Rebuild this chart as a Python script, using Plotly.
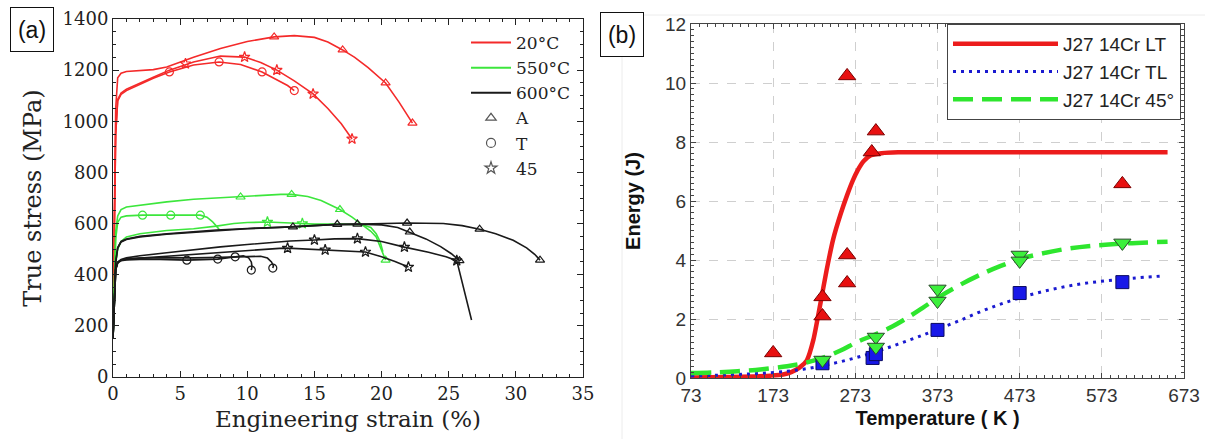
import plotly.graph_objects as go

# ---------------- Panel (a) data: true stress (MPa) vs engineering strain (%) ----------------
# 20 °C (red)
red_A_strain = [0, 0.1, 0.2, 0.35, 0.6, 1, 2, 3, 4, 5, 6, 8, 10, 12, 13.5, 15, 16, 17.1, 18, 19, 20.3, 21.3, 22.3]
red_A_stress = [200, 700, 1050, 1170, 1188, 1195, 1198, 1202, 1212, 1232, 1250, 1285, 1312, 1330, 1335, 1328, 1310, 1279, 1250, 1210, 1150, 1075, 993]
red_A_mk_strain = [12.0, 17.1, 20.3, 22.3]
red_A_mk_stress = [1330, 1279, 1150, 993]

red_T_strain = [0, 0.1, 0.2, 0.35, 0.6, 1, 2, 3, 4.2, 6, 7.9, 9.5, 11.1, 12.3, 13.0, 13.5]
red_T_stress = [200, 650, 950, 1080, 1105, 1120, 1145, 1168, 1193, 1220, 1232, 1222, 1193, 1160, 1140, 1120]
red_T_mk_strain = [4.2, 7.9, 11.1, 13.5]
red_T_mk_stress = [1193, 1232, 1193, 1120]

red_45_strain = [0, 0.1, 0.2, 0.35, 0.6, 1, 2, 3, 4.2, 6, 8, 9.8, 11, 12.2, 13.5, 14.9, 16, 17, 17.8]
red_45_stress = [200, 650, 950, 1085, 1110, 1125, 1150, 1172, 1200, 1232, 1255, 1251, 1230, 1200, 1158, 1107, 1050, 990, 931]
red_45_mk_strain = [5.4, 9.8, 12.2, 14.9, 17.8]
red_45_mk_stress = [1225, 1251, 1200, 1107, 931]

# 550 °C (green)
grn_A_strain = [0, 0.1, 0.2, 0.35, 0.6, 1, 2, 4, 6, 8, 9.5, 11, 12.5, 13.3, 14.5, 15.5, 16.9, 17.8, 18.6, 19.2, 19.6, 20.0, 20.3]
grn_A_stress = [160, 420, 570, 630, 655, 665, 672, 685, 695, 701, 704, 710, 714, 714, 706, 690, 655, 625, 595, 570, 548, 500, 457]
grn_A_mk_strain = [9.5, 13.3, 16.9, 20.3]
grn_A_mk_stress = [704, 714, 655, 457]

grn_T_strain = [0, 0.1, 0.2, 0.35, 0.6, 1, 2.2, 4.3, 6.5, 7.0, 7.4, 7.7, 7.9]
grn_T_stress = [160, 400, 540, 605, 625, 630, 633, 633, 633, 625, 608, 590, 578]
grn_T_mk_strain = [2.2, 4.3, 6.5]
grn_T_mk_stress = [633, 633, 633]

grn_45_strain = [0, 0.1, 0.2, 0.35, 0.6, 1, 2, 4, 6, 7.7, 9, 10, 11.5, 13.2, 15, 17, 18.5, 19.2, 19.6, 19.9, 20.1]
grn_45_stress = [150, 350, 440, 500, 530, 548, 560, 573, 580, 590, 600, 604, 606, 602, 598, 598, 596, 585, 560, 528, 490]
grn_45_mk_strain = [11.5, 14.1]
grn_45_mk_stress = [606, 600]

# 600 °C (black)
blk_A1_strain = [0, 0.1, 0.2, 0.35, 0.6, 1, 2, 4, 6, 7.7, 10, 13.4, 16, 19, 21.9, 24.6, 26, 27.3, 28.5, 29.8, 30.8, 31.4, 31.8]
blk_A1_stress = [150, 330, 450, 505, 530, 540, 550, 560, 568, 575, 581, 587, 595, 600, 602, 600, 592, 578, 560, 535, 505, 480, 457]
blk_A1_mk_strain = [13.4, 21.9, 27.3, 31.8]
blk_A1_mk_stress = [587, 602, 578, 457]

blk_A2_strain = [0, 0.1, 0.2, 0.35, 0.6, 1, 2, 4, 6, 8, 10, 12.4, 14, 16.7, 18.2, 20, 21.2, 22.1, 23.3, 24.4, 25.2, 25.8]
blk_A2_stress = [150, 330, 450, 505, 528, 538, 548, 558, 566, 574, 580, 585, 590, 597, 598, 595, 585, 567, 540, 510, 482, 455]
blk_A2_mk_strain = [16.7, 18.2, 22.1, 25.8]
blk_A2_mk_stress = [597, 598, 567, 455]

blk_45a_strain = [0, 0.1, 0.2, 0.35, 0.6, 1, 2, 4, 6, 8, 10, 13.2, 15.0, 16.5, 18.2, 20, 21.7, 23.5, 24.8, 25.6, 26.7]
blk_45a_stress = [150, 300, 420, 450, 460, 466, 474, 486, 498, 509, 518, 532, 536, 540, 541, 530, 508, 488, 470, 455, 223]
blk_45a_mk_strain = [15.0, 18.2, 21.7, 25.6]
blk_45a_mk_stress = [536, 541, 508, 455]

blk_45b_strain = [0, 0.1, 0.2, 0.35, 0.6, 1, 2, 4, 6, 8, 10, 12.4, 13.0, 15.8, 17.5, 18.8, 20.0, 21.0, 22.0]
blk_45b_stress = [150, 300, 420, 448, 456, 460, 465, 472, 480, 488, 496, 503, 504, 497, 493, 489, 470, 452, 430]
blk_45b_mk_strain = [13.0, 15.8, 18.8, 22.0]
blk_45b_mk_stress = [504, 497, 489, 430]

blk_T1_strain = [0, 0.1, 0.2, 0.35, 0.6, 1, 2, 3.5, 5.5, 7.8, 9.1, 9.7, 10.1, 10.3, 10.35, 10.3]
blk_T1_stress = [150, 300, 420, 445, 455, 458, 460, 460, 457, 461, 469, 474, 466, 450, 432, 418]
blk_T1_mk_strain = [5.5, 7.8, 10.3]
blk_T1_mk_stress = [457, 461, 418]

blk_T2_strain = [0, 0.1, 0.2, 0.35, 0.6, 1, 2, 4, 6, 8, 9.1, 10, 11.0, 11.5, 11.8, 11.95, 11.9]
blk_T2_stress = [150, 300, 420, 448, 458, 462, 465, 467, 466, 468, 470, 472, 472, 465, 450, 435, 426]
blk_T2_mk_strain = [9.1, 11.9]
blk_T2_mk_stress = [470, 426]

a_xticks = [0, 5, 10, 15, 20, 25, 30, 35]
a_yticks = [0, 200, 400, 600, 800, 1000, 1200, 1400]

# ---------------- Panel (b) data: Charpy energy (J) vs temperature (K) ----------------
lt_fit_T = [73, 120, 150, 170, 185, 195, 205, 214, 222, 230, 238, 246, 255, 263, 270, 276, 283, 292, 305, 325, 360, 450, 550, 653]
lt_fit_E = [0.02, 0.03, 0.05, 0.08, 0.12, 0.2, 0.35, 0.6, 1.3, 2.45, 3.65, 4.7, 5.55, 6.2, 6.7, 7.05, 7.35, 7.55, 7.62, 7.65, 7.65, 7.65, 7.65, 7.65]
tl_fit_T = [73, 100, 130, 160, 190, 210, 230, 250, 270, 290, 310, 330, 350, 373, 400, 430, 460, 490, 520, 550, 580, 610, 647]
tl_fit_E = [0.07, 0.09, 0.12, 0.16, 0.23, 0.3, 0.4, 0.52, 0.66, 0.82, 1.0, 1.2, 1.4, 1.65, 1.95, 2.3, 2.6, 2.85, 3.05, 3.2, 3.3, 3.38, 3.46]
d45_fit_T = [73, 100, 130, 160, 190, 210, 233, 255, 275, 295, 315, 335, 355, 375, 400, 425, 450, 475, 500, 530, 560, 600, 653]
d45_fit_E = [0.17, 0.19, 0.23, 0.3, 0.4, 0.5, 0.68, 0.93, 1.22, 1.45, 1.7, 2.02, 2.38, 2.75, 3.15, 3.5, 3.8, 4.05, 4.22, 4.38, 4.48, 4.56, 4.62]

lt_pts_T = [173, 233, 233, 263, 263, 263, 293, 298, 598]
lt_pts_E = [0.85, 2.75, 2.1, 10.24, 4.17, 3.22, 7.66, 8.37, 6.58]
tl_pts_T = [233, 294, 298, 373, 473, 598]
tl_pts_E = [0.5, 0.68, 0.81, 1.63, 2.88, 3.25]
d45_pts_T = [233, 298, 298, 373, 373, 473, 473, 598]
d45_pts_E = [0.61, 1.39, 1.05, 3.02, 2.61, 4.17, 3.97, 4.58]

b_xticks = [73, 173, 273, 373, 473, 573, 673]
b_yticks = [0, 2, 4, 6, 8, 10, 12]

# ---------------- styles ----------------
RED_A, GRN_A, BLK_A = "#f42a2a", "#3ce63c", "#1a1a1a"
SERIF = "DejaVu Serif"
SANS = "Liberation Sans"

fig = go.Figure()

def add_curve(xs, ys, mx, my, color, symbol):
    fig.add_trace(go.Scatter(x=xs, y=ys, mode="lines", line=dict(color=color, width=1.6),
                             showlegend=False, xaxis="x", yaxis="y", hoverinfo="skip"))
    fig.add_trace(go.Scatter(x=mx, y=my, mode="markers",
                             marker=dict(symbol=symbol, size=8, color=color, line=dict(color=color, width=1.2)),
                             showlegend=False, xaxis="x", yaxis="y", hoverinfo="skip"))

add_curve(red_A_strain, red_A_stress, red_A_mk_strain, red_A_mk_stress, RED_A, "triangle-up-open")
add_curve(red_T_strain, red_T_stress, red_T_mk_strain, red_T_mk_stress, RED_A, "circle-open")
add_curve(red_45_strain, red_45_stress, red_45_mk_strain, red_45_mk_stress, RED_A, "star-open")
add_curve(grn_A_strain, grn_A_stress, grn_A_mk_strain, grn_A_mk_stress, GRN_A, "triangle-up-open")
add_curve(grn_T_strain, grn_T_stress, grn_T_mk_strain, grn_T_mk_stress, GRN_A, "circle-open")
add_curve(grn_45_strain, grn_45_stress, grn_45_mk_strain, grn_45_mk_stress, GRN_A, "star-open")
add_curve(blk_A1_strain, blk_A1_stress, blk_A1_mk_strain, blk_A1_mk_stress, BLK_A, "triangle-up-open")
add_curve(blk_A2_strain, blk_A2_stress, blk_A2_mk_strain, blk_A2_mk_stress, BLK_A, "triangle-up-open")
add_curve(blk_45a_strain, blk_45a_stress, blk_45a_mk_strain, blk_45a_mk_stress, BLK_A, "star-open")
add_curve(blk_45b_strain, blk_45b_stress, blk_45b_mk_strain, blk_45b_mk_stress, BLK_A, "star-open")
add_curve(blk_T1_strain, blk_T1_stress, blk_T1_mk_strain, blk_T1_mk_stress, BLK_A, "circle-open")
add_curve(blk_T2_strain, blk_T2_stress, blk_T2_mk_strain, blk_T2_mk_stress, BLK_A, "circle-open")

# legend entries for panel (a)
for nm, col in [("20°C", RED_A), ("550°C", GRN_A), ("600°C", BLK_A)]:
    fig.add_trace(go.Scatter(x=[None], y=[None], mode="lines", name=nm, line=dict(color=col, width=2),
                             legend="legend", xaxis="x", yaxis="y"))
for nm, sym in [("A", "triangle-up-open"), ("T", "circle-open"), ("45", "star-open")]:
    fig.add_trace(go.Scatter(x=[None], y=[None], mode="markers", name=nm,
                             marker=dict(symbol=sym, size=9, color="#555", line=dict(color="#555", width=1.2)),
                             legend="legend", xaxis="x", yaxis="y"))

# panel (b)
RED_B, BLUE_B, GRN_B = "#ec1c1c", "#1a1ad0", "#2ee62e"
fig.add_trace(go.Scatter(x=lt_fit_T, y=lt_fit_E, mode="lines", name="J27 14Cr LT",
                         line=dict(color=RED_B, width=4.5, shape="spline", smoothing=0.6), legend="legend2", xaxis="x2", yaxis="y2"))
fig.add_trace(go.Scatter(x=tl_fit_T, y=tl_fit_E, mode="lines", name="J27 14Cr TL",
                         line=dict(color=BLUE_B, width=3, dash="3px,5px", shape="spline"), legend="legend2", xaxis="x2", yaxis="y2"))
fig.add_trace(go.Scatter(x=d45_fit_T, y=d45_fit_E, mode="lines", name="J27 14Cr 45°",
                         line=dict(color=GRN_B, width=4.5, dash="20px,9px", shape="spline"), legend="legend2", xaxis="x2", yaxis="y2"))
fig.add_trace(go.Scatter(x=lt_pts_T, y=lt_pts_E, mode="markers", showlegend=False,
                         marker=dict(symbol="triangle-up", size=15, color="#e81010", line=dict(color="#7a0000", width=1)),
                         xaxis="x2", yaxis="y2"))
fig.add_trace(go.Scatter(x=tl_pts_T, y=tl_pts_E, mode="markers", showlegend=False,
                         marker=dict(symbol="square", size=13, color="#1818e8", line=dict(color="#0a0a60", width=1)),
                         xaxis="x2", yaxis="y2"))
fig.add_trace(go.Scatter(x=d45_pts_T, y=d45_pts_E, mode="markers", showlegend=False,
                         marker=dict(symbol="triangle-down", size=15, color="#3cf03c", line=dict(color="#2a4a2a", width=1)),
                         xaxis="x2", yaxis="y2"))

W, H = 1214, 439
axis_a = dict(showline=True, linecolor="#222", linewidth=1, mirror="allticks", ticks="inside", ticklen=6,
              tickcolor="#222", showgrid=False, zeroline=False, automargin=False,
              tickfont=dict(family=SERIF, size=18, color="#222"))
axis_b = dict(showline=True, linecolor="#444", linewidth=1, mirror="allticks", ticks="inside", ticklen=5,
              tickcolor="#444", showgrid=True, gridcolor="#cfcfcf", griddash="dash", gridwidth=1, zeroline=False,
              automargin=False, tickfont=dict(family=SANS, size=19, color="#333"))

fig.update_layout(
    width=W, height=H, margin=dict(l=0, r=0, t=0, b=0, autoexpand=False),
    paper_bgcolor="white", plot_bgcolor="white",
    xaxis=dict(axis_a, domain=[113 / W, 583 / W], range=[0, 35], tickvals=a_xticks, anchor="y",
               minor=dict(dtick=1, ticks="inside", ticklen=3, tickcolor="#222"),
               title=dict(text="Engineering strain (%)", font=dict(family=SERIF, size=23, color="#222"), standoff=8)),
    yaxis=dict(axis_a, domain=[(H - 377) / H, (H - 19) / H], range=[0, 1400], tickvals=a_yticks, anchor="x",
               minor=dict(dtick=50, ticks="inside", ticklen=3, tickcolor="#222"),
               title=dict(text="True stress (MPa)", font=dict(family=SERIF, size=24, color="#222"), standoff=14)),
    xaxis2=dict(axis_b, domain=[691 / W, 1184 / W], range=[73, 673], tickvals=b_xticks, anchor="y2",
                minor=dict(tick0=73, dtick=10, ticks="inside", ticklen=3, tickcolor="#444", showgrid=False),
                title=dict(text="<b>Temperature ( K )</b>", font=dict(family=SANS, size=20, color="#111"), standoff=6)),
    yaxis2=dict(axis_b, domain=[(H - 378) / H, (H - 24) / H], range=[0, 12], tickvals=b_yticks, anchor="x2",
                minor=dict(dtick=0.2, ticks="inside", ticklen=3, tickcolor="#444", showgrid=False),
                title=dict(text="<b>Energy (J)</b>", font=dict(family=SANS, size=20, color="#111"), standoff=19)),
    legend=dict(x=466 / W, y=1 - 25 / H, xanchor="left", yanchor="top", bgcolor="rgba(0,0,0,0)",
                borderwidth=0, itemwidth=40, font=dict(family=SERIF, size=17, color="#222")),
    legend2=dict(x=947 / W, y=1 - 24 / H, xanchor="left", yanchor="top", bgcolor="white",
                 bordercolor="#444", borderwidth=1, itemwidth=105, font=dict(family=SANS, size=19, color="#222")),
    showlegend=True,
)

# panel labels
for txt, x0, y0 in [("(a)", 10, 7), ("(b)", 600, 12)]:
    fig.add_annotation(text=txt, xref="paper", yref="paper", x=x0 / W, y=1 - y0 / H,
                       xanchor="left", yanchor="top", showarrow=False, width=42, height=43,
                       font=dict(family=SANS, size=23, color="#111"),
                       bordercolor="#111", borderwidth=1, borderpad=0, bgcolor="white")

# faint frame of panel (b) image
fig.add_shape(type="line", xref="paper", yref="paper", x0=622 / W, x1=622 / W, y0=0, y1=1 - 15 / H,
              line=dict(color="#ececec", width=1))
fig.add_shape(type="line", xref="paper", yref="paper", x0=622 / W, x1=1205 / W, y0=1 - 15 / H, y1=1 - 15 / H,
              line=dict(color="#ececec", width=1))

fig.write_html("out.html", config={"displayModeBar": False},
               post_script="document.body.style.margin='0';document.body.style.padding='0';")
